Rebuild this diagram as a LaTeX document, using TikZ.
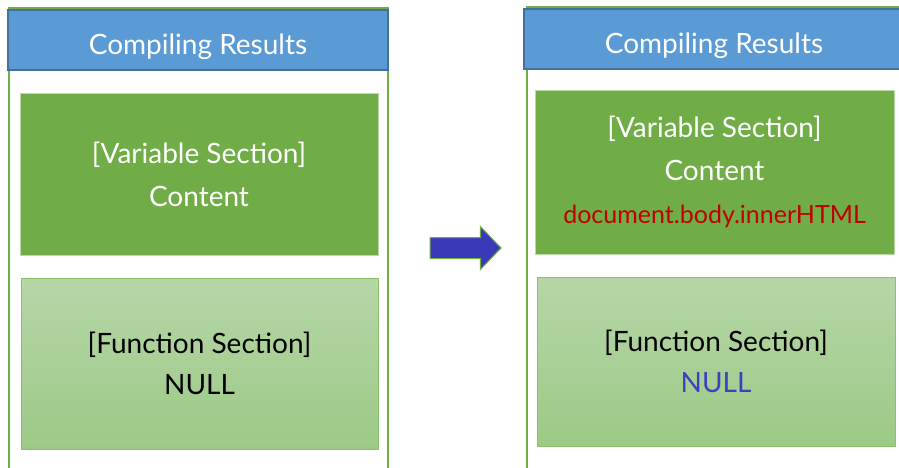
\documentclass[tikz,border=0pt]{standalone}
\usepackage{fontspec}
\setmainfont{Lato}
\usepackage{tikz}
\usetikzlibrary{shapes, arrows, positioning, calc}

\definecolor{hdrblue}{HTML}{5B9BD5}
\definecolor{hdrline}{HTML}{41719C}
\definecolor{darkgreen}{HTML}{70AD47}
\definecolor{lighttop}{HTML}{B6D6A7}
\definecolor{lightbot}{HTML}{9CCA86}
\definecolor{frameline}{HTML}{8CC168}
\definecolor{redtext}{HTML}{C00000}
\definecolor{nullblue}{HTML}{3F3FC0}
\definecolor{arrowblue}{HTML}{3A3AB8}

\tikzset{
    header/.style={draw=hdrline, fill=hdrblue, line width=1.5pt, text=white,
        minimum width=380, minimum height=60, text height=31pt, text depth=1pt,
        font=\fontsize{28}{30}\selectfont},
    varbox/.style={fill=darkgreen, draw=frameline!60, text=white, align=center,
        font=\fontsize{28}{43}\selectfont},
    funbox/.style={top color=lighttop, bottom color=lightbot, draw=frameline,
        line width=1pt, align=center, font=\fontsize{28}{41}\selectfont},
    panel/.style={draw=darkgreen, line width=2pt}
}

\begin{document}
\begin{tikzpicture}[x=1pt, y=-1pt]
        \clip (0, 0) rectangle (899, 468);
        \fill[white] (0, 0) rectangle (899, 468);

        % Рамки
        \draw[panel] (9, 470) -- (9, 8) -- (388, 8) -- (388, 470);
        \draw[panel] (527, 470) -- (527, 7) -- (905, 7) -- (905, 470);

        % Левая панель
        \node[header] (hdrL) at (198, 40) {Compiling Results};
        \node[varbox, minimum width=358, minimum height=162] (varL) at (199, 174)
            {[Variable Section]\\Content};
        \node[funbox, minimum width=357, minimum height=171] (funL) at (199.5, 363.5)
            {[Function Section]\\NULL};

        % Стрелка
        \node[single arrow, fill=arrowblue, draw=darkgreen, line width=1pt,
            minimum height=71, inner xsep=0pt, inner ysep=10pt,
            single arrow head extend=11, single arrow tip angle=92]
            (arrow) at (460.5, 248) {};

        % Правая панель
        \node[header] (hdrR) at (714, 39) {Compiling Results};
        \node[varbox, minimum width=359, minimum height=164] (varR) at (714.5, 172)
            {[Variable Section]\\Content\\{\color{redtext}\fontsize{25}{30}\selectfont document.body.innerHTML}};
        \node[funbox, minimum width=358, minimum height=169] (funR) at (716, 361.5)
            {[Function Section]\\{\color{nullblue}NULL}};

    \end{tikzpicture}
\end{document}
